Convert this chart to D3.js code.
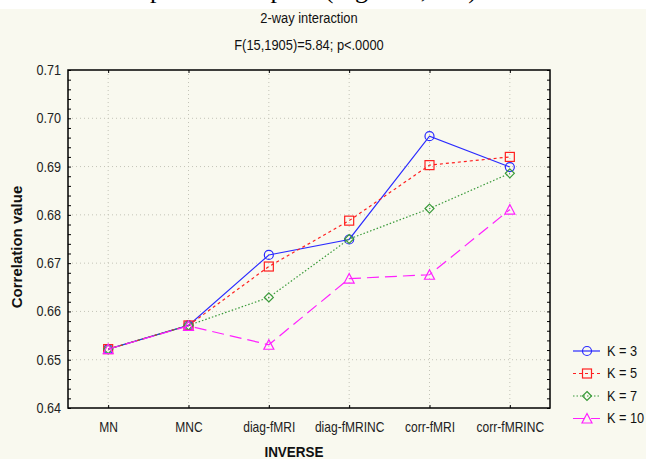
<!DOCTYPE html>
<html>
<head>
<meta charset="utf-8">
<script src="https://cdn.jsdelivr.net/npm/d3@7"></script>
<style>
  html, body { margin: 0; padding: 0; background: #f9f9ef; }
  svg { display: block; }
</style>
</head>
<body>
<svg></svg>
<script>
// categories and series
const categories = ['MN', 'MNC', 'diag-fMRI', 'diag-fMRINC', 'corr-fMRI', 'corr-fMRINC'];
const k3 = [0.6522, 0.6571, 0.6717, 0.6749, 0.6963, 0.6899];
const k5 = [0.6522, 0.6571, 0.6693, 0.6788, 0.6903, 0.6920];
const k7 = [0.6522, 0.6571, 0.6629, 0.6750, 0.6813, 0.6886];
const k10 = [0.6522, 0.6570, 0.6531, 0.6668, 0.6676, 0.6811];
const yTicks = [0.64, 0.65, 0.66, 0.67, 0.68, 0.69, 0.70, 0.71];
const seriesNames = ['K = 3', 'K = 5', 'K = 7', 'K = 10'];

const series = [
    { name: seriesNames[0], values: k3, color: '#2a2aff', dash: null, marker: 'circle' },
    { name: seriesNames[1], values: k5, color: '#ff2020', dash: '3,3', marker: 'square' },
    { name: seriesNames[2], values: k7, color: '#3a9a3a', dash: '1.5,2', marker: 'diamond' },
    { name: seriesNames[3], values: k10, color: '#ff20ff', dash: '12,6', marker: 'triangle' }
];

const width = 646, height = 459;
const svg = d3.select('svg').attr('width', width).attr('height', height);
const font = '"Liberation Sans", Arial, sans-serif';

// background
svg.append('rect').attr('width', width).attr('height', height).attr('fill', '#f9f9ef');

// cropped page text strip at the top (only the descenders show)
svg.append('defs').append('clipPath').attr('id', 'topclip')
    .append('rect').attr('x', 0).attr('y', 0).attr('width', width).attr('height', 9);
svg.append('rect').attr('width', width).attr('height', 9).attr('fill', '#ffffff');
svg.append('text')
    .attr('clip-path', 'url(#topclip)')
    .attr('x', 150).attr('y', -2)
    .style('font-family', '"Liberation Serif", "Times New Roman", serif')
    .style('font-size', '26px')
    .attr('fill', '#000')
    .text('parameter space (Figure 6, left).');

const plot = { left: 68, right: 550, top: 70, bottom: 408 };

const x = d3.scalePoint().domain(categories).range([plot.left, plot.right]).padding(0.5);
const y = d3.scaleLinear().domain([0.64, 0.71]).range([plot.bottom, plot.top]);

// narrow look: squeeze text horizontally around its own x
function narrow(sel, k) {
    sel.each(function() {
        const t = d3.select(this);
        const tx = +t.attr('x') || 0;
        t.attr('transform', `translate(${tx * (1 - k)},0) scale(${k},1)`);
    });
}

// titles
svg.append('text').attr('x', 309).attr('y', 23).attr('text-anchor', 'middle')
    .style('font-family', font).style('font-size', '14px').attr('fill', '#111')
    .text('2-way interaction').call(narrow, 0.92);
svg.append('text').attr('x', 309).attr('y', 50).attr('text-anchor', 'middle')
    .style('font-family', font).style('font-size', '14px').attr('fill', '#111')
    .text('F(15,1905)=5.84; p<.0000').call(narrow, 0.92);

// grid
const grid = svg.append('g');
grid.selectAll('.hg').data(yTicks.slice(1, -1)).enter().append('line')
    .attr('x1', plot.left).attr('x2', plot.right)
    .attr('y1', d => y(d)).attr('y2', d => y(d))
    .attr('stroke', '#c4c4b8').attr('stroke-dasharray', '1,3');
grid.selectAll('.vg').data(categories).enter().append('line')
    .attr('x1', d => x(d)).attr('x2', d => x(d))
    .attr('y1', plot.top).attr('y2', plot.bottom)
    .attr('stroke', '#c4c4b8').attr('stroke-dasharray', '1,3');

// axes
const minor = d3.range(0.64, 0.7101, 0.002);
svg.append('g').attr('transform', `translate(${plot.left},0)`)
    .call(d3.axisRight(y).tickValues(minor).tickSize(3).tickFormat(''))
    .call(g => g.select('.domain').remove());
svg.append('g').attr('transform', `translate(${plot.right},0)`)
    .call(d3.axisLeft(y).tickValues(minor).tickSize(3).tickFormat(''))
    .call(g => g.select('.domain').remove());
svg.append('g').attr('transform', `translate(${plot.left},0)`)
    .call(d3.axisLeft(y).tickValues(yTicks).tickSize(0).tickPadding(7).tickFormat(d3.format('.2f')))
    .call(g => g.select('.domain').remove())
    .selectAll('text').style('font-family', font).style('font-size', '14px').attr('fill', '#222')
    .call(narrow, 0.9);
svg.append('g').attr('transform', `translate(0,${plot.bottom})`)
    .call(d3.axisTop(x).tickSize(3).tickFormat(''))
    .call(g => g.select('.domain').remove());
svg.append('g').attr('transform', `translate(0,${plot.top})`)
    .call(d3.axisBottom(x).tickSize(3).tickFormat(''))
    .call(g => g.select('.domain').remove());
svg.append('g').attr('transform', `translate(0,${plot.bottom})`)
    .call(d3.axisBottom(x).tickSize(0).tickPadding(14))
    .call(g => g.select('.domain').remove())
    .selectAll('text').style('font-family', font).style('font-size', '14px').attr('fill', '#222')
    .call(narrow, 0.86);

svg.append('rect')
    .attr('x', plot.left).attr('y', plot.top)
    .attr('width', plot.right - plot.left).attr('height', plot.bottom - plot.top)
    .attr('fill', 'none').attr('stroke', '#000').attr('stroke-width', 1.5);

// axis titles
svg.append('text').attr('x', 294).attr('y', 457).attr('text-anchor', 'middle')
    .style('font-family', font).style('font-size', '15px').style('font-weight', 'bold')
    .attr('fill', '#111').text('INVERSE').call(narrow, 0.9);
svg.append('text').attr('transform', 'translate(22,247) rotate(-90)').attr('text-anchor', 'middle')
    .style('font-family', font).style('font-size', '15px').style('font-weight', 'bold')
    .attr('fill', '#111').text('Correlation value');

// marker helper
function drawMarker(sel, type, color) {
    if (type === 'circle') {
        sel.append('circle').attr('r', 4.5);
    } else if (type === 'square') {
        sel.append('rect').attr('x', -4.5).attr('y', -4.5).attr('width', 9).attr('height', 9);
    } else if (type === 'diamond') {
        sel.append('path').attr('d', 'M0,-4.5L4.5,0L0,4.5L-4.5,0Z');
    } else {
        sel.append('path').attr('d', 'M0,-5L5,4.5L-5,4.5Z');
    }
    sel.selectAll('*').attr('fill', 'none').attr('stroke', color).attr('stroke-width', 1.2);
}

const line = d3.line().x((d, i) => x(categories[i])).y(d => y(d));

series.forEach(s => {
    svg.append('path').datum(s.values)
        .attr('d', line)
        .attr('fill', 'none')
        .attr('stroke', s.color)
        .attr('stroke-width', 1.2)
        .attr('stroke-dasharray', s.dash);
    svg.append('g').selectAll('g').data(s.values).enter().append('g')
        .attr('transform', (d, i) => `translate(${x(categories[i])},${y(d)})`)
        .each(function() { drawMarker(d3.select(this), s.marker, s.color); });
});

// legend
const legend = svg.append('g');
series.forEach((s, i) => {
    const ly = 351 + i * 22.5;
    legend.append('line').attr('x1', 573).attr('x2', 600).attr('y1', ly).attr('y2', ly)
        .attr('stroke', s.color).attr('stroke-width', 1.2).attr('stroke-dasharray', s.dash);
    const m = legend.append('g').attr('transform', `translate(587,${ly})`);
    drawMarker(m, s.marker, s.color);
    legend.append('text').attr('x', 607).attr('y', ly + 5)
        .style('font-family', font).style('font-size', '15px').attr('fill', '#111')
        .text(s.name).call(narrow, 0.85);
});
</script>
</body>
</html>
